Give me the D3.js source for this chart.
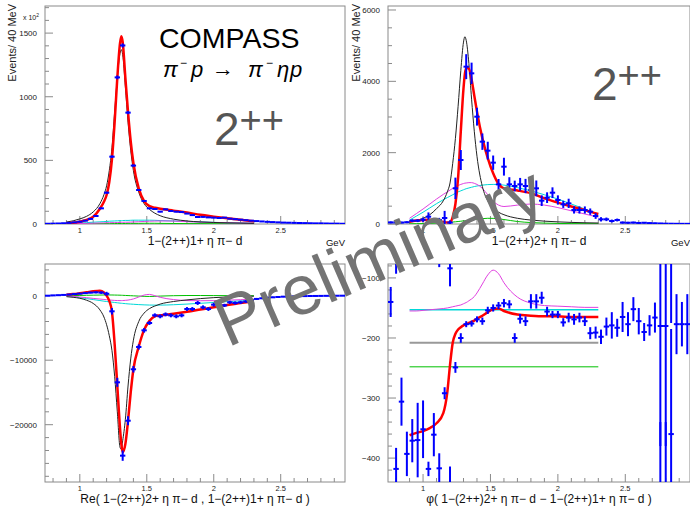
<!DOCTYPE html>
<html>
<head>
<meta charset="utf-8">
<script src="https://cdn.jsdelivr.net/npm/d3@7/dist/d3.min.js"></script>
<style>
body{margin:0;background:#fff;}
svg text{font-family:"Liberation Sans",Arial,sans-serif;}
</style>
</head>
<body>
<svg></svg>
<script>
// bin centres (GeV), 40 MeV bins
var massBins = [0.76,0.80,0.84,0.88,0.92,0.96,1.00,1.04,1.08,1.12,1.16,1.20,1.24,1.28,1.32,1.36,1.40,1.44,1.48,1.52,
  1.56,1.60,1.64,1.68,1.72,1.76,1.80,1.84,1.88,1.92,1.96,2.00,2.04,2.08,2.12,2.16,2.20,2.24,2.28,2.32,
  2.36,2.40,2.44,2.48,2.52,2.56,2.60,2.64,2.68,2.72,2.76,2.80,2.84,2.88,2.92,2.96];

// top left: intensity 2++ M=1 (x 10^2)
var tlCounts = [2,3,4,6,9,13,18,26,40,63,123,246,529,1152,1403,875,459,267,181,123,
  118,97,115,102,97,94,82,70,55,56,52,50,47,50,42,38,34,30,26,23,
  20,17,15,13,11,10,9,8,7,6,5,5,4,3,3,2];
var tlErr = [1,1,1,1,1,2,2,2,3,4,6,8,10,15,16,12,9,7,6,5,
  5,5,5,5,5,5,4,4,4,4,4,4,3,3,3,3,3,3,3,2,
  2,2,2,2,2,2,1,1,1,1,1,1,1,1,1,1];

// top right: intensity 2++ M=2
var trCounts = [45,45,40,50,93,93,120,205,112,112,168,40,1000,1794,4411,4224,3009,2308,2056,1720,
  1112,1607,1112,1065,1112,1065,953,1000,654,738,878,673,551,579,393,393,393,346,224,131,
  131,84,112,40,35,40,30,35,25,20,15,10,8,6,5,5];
var trErr = [25,25,25,25,40,40,60,120,60,60,200,60,300,280,350,300,250,230,250,200,
  150,250,200,150,180,200,200,220,150,150,150,130,100,130,100,100,100,90,80,60,
  50,40,40,30,25,25,20,20,20,15,15,10,10,10,10,10];

// bottom left: Re interference
var blRe = [0,50,80,120,180,250,320,400,480,520,480,300,-2420,-13430,-24800,-19380,-11410,-7950,-5370,-4230,
  -3040,-3200,-2900,-3050,-3200,-3050,-2060,-2060,-1130,-1800,-2060,-1390,-1500,-1500,-1030,-1130,-1030,-900,-700,-500,
  -400,-300,-250,-200,-150,-120,-100,-80,-60,-50,-40,-30,-20,-10,-5,0];
var blErr = [60,60,60,60,80,80,100,100,120,150,200,300,500,700,800,700,500,400,350,300,
  300,300,300,300,300,300,300,300,300,300,300,300,250,250,250,250,250,200,200,150,
  120,100,100,80,80,80,60,60,60,60,60,50,50,50,50,50];

// bottom right: relative phase (deg)
var brPhase = [-140,-418,-306,-393,-371,-370,-352,-418,-361,-417,-292,-84,-249,-200,-177,-176,-169,-172,-154,-150,
  -146,-142,-144,-200,-168,-172,-139,-139,-133,-156,-161,-161,-174,-166,-169,-166,-172,-192,-191,-198,
  -181,-179,-183,-165,-177,-152,-172,-190,-179,-166,-180,-180,-360,-177,-177,-177];
var brErr = [25,35,40,37,36,62,48,12,36,25,10,30,9,8,5,5,5,6,6,6,
  6,7,7,8,8,8,12,12,10,8,6,6,7,8,9,8,8,10,10,12,
  15,22,15,25,20,20,22,15,17,25,200,200,175,50,37,50];

// fit components, sampled on the fit range
var fitMass = [0.90,0.95,1.00,1.05,1.10,1.15,1.18,1.20,1.22,1.24,1.26,1.28,1.30,1.31,1.32,1.34,1.36,1.38,1.40,1.44,
  1.48,1.52,1.56,1.60,1.70,1.80,1.90,2.00,2.10,2.20,2.30];

var tlRed = [5,10,18,32,57,120,175,228,330,510,800,1150,1420,1475,1430,1150,880,650,480,280,
  180,140,128,120,105,90,72,58,45,33,22];
var tlBlack = [15,25,40,60,95,160,230,300,420,600,880,1150,1340,1370,1330,1080,800,580,420,250,
  160,115,85,65,38,24,16,12,9,7,5];
var tlCyan = [3,5,8,11,14,17,19,20,22,23,24,25,26,26,27,28,28,29,30,30,
  30,30,29,27,24,20,17,13,10,8,6];
var tlMagenta = [2,3,4,5,6,8,9,10,10,11,11,12,12,13,13,14,14,15,16,18,
  20,22,23,24,23,18,15,12,10,8,6];
var tlGreen = [1,1,1,2,2,3,3,3,3,3,4,4,4,4,4,4,5,5,5,5,
  6,6,6,5,4,3,3,2,2,1,1];

var trRed = [65,95,115,120,100,60,40,50,200,560,1300,2600,3800,4200,4380,4350,4050,3600,3150,2400,
  1850,1420,1120,1000,940,860,720,600,490,390,280];
var trBlack = [60,100,160,260,430,650,900,1150,1700,2400,3300,4300,5100,5250,5150,4500,3500,2600,1900,1050,
  650,450,330,260,160,110,80,60,45,35,28];
var trCyan = [110,220,330,450,570,680,740,780,820,860,900,930,960,975,990,1010,1030,1050,1065,1090,
  1105,1110,1105,1090,1020,930,820,700,560,420,280];
var trMagenta = [160,290,420,560,700,830,900,950,1000,1040,1080,1110,1135,1145,1150,1160,1160,1140,1110,1000,
  820,640,530,490,530,560,530,460,370,280,190];
var trGreen = [5,8,12,18,25,35,42,48,55,62,70,78,88,92,96,105,115,125,135,150,
  160,158,145,125,70,40,25,16,11,8,6];

var blRedFit = [150,250,380,520,680,760,500,0,-800,-2500,-7500,-14000,-20500,-23000,-24300,-23000,-19400,-15000,-11400,-7900,
  -5300,-3900,-3200,-3050,-2800,-2500,-2150,-1800,-1450,-1150,-850];
var blBlack = [-150,-250,-400,-700,-1200,-2200,-3300,-4500,-6200,-8500,-12500,-18000,-23500,-23800,-22500,-19200,-14000,-9800,-6900,-4000,
  -2700,-2000,-1600,-1300,-900,-650,-450,-300,-200,-120,-80];
var blCyan = [0,-150,-300,-450,-600,-750,-850,-900,-950,-1000,-1050,-1100,-1150,-1170,-1190,-1230,-1270,-1300,-1330,-1380,
  -1420,-1450,-1460,-1460,-1400,-1300,-1180,-1050,-920,-800,-700];
var blMagenta = [0,-100,-200,-300,-420,-520,-580,-620,-660,-700,-730,-750,-760,-760,-750,-720,-680,-600,-500,-200,
  100,200,0,-250,-600,-750,-780,-760,-700,-620,-550];
var blGreen = [0,20,40,60,80,100,110,110,110,110,100,90,80,70,60,40,20,0,-20,-60,
  -100,-120,-100,-60,0,30,30,20,10,5,0];

var brRedFit = [-362,-358,-355,-350,-342,-325,-290,-245,-208,-193,-186,-182,-179,-178,-177,-175,-173,-171,-168,-163,
  -157,-152,-151,-155,-161,-163,-164,-164,-165,-165,-165];
var brMagenta = [-155,-155,-154,-153,-152,-151,-150,-149,-148,-147,-146,-145,-143,-142,-141,-138,-135,-131,-125,-110,
  -95,-87,-93,-108,-132,-142,-146,-147,-148,-149,-149];
var brCyanLevel = -153, brBlackLevel = -208, brGreenLevel = -248;
var fitRange = [0.90, 2.30];

var xTicks = [1, 1.5, 2, 2.5];

var svg = d3.select("svg").attr("width", 690).attr("height", 506);
svg.append("rect").attr("width", 690).attr("height", 506).attr("fill", "#fff");

function panel(id, x0, x1, y0, y1, ydom, ymajor, yminor, xtitle, gev) {
  var x = d3.scaleLinear().domain([0.74, 2.98]).range([x0, x1]);
  var y = d3.scaleLinear().domain(ydom).range([y1, y0]);
  var g = svg.append("g");
  g.append("clipPath").attr("id", id).append("rect")
    .attr("x", x0).attr("y", y0).attr("width", x1 - x0).attr("height", y1 - y0);
  g.append("rect").attr("x", x0).attr("y", y0).attr("width", x1 - x0).attr("height", y1 - y0)
    .attr("fill", "none").attr("stroke", "#8a8a8a").attr("stroke-width", 1);
  // x ticks
  var xmin = d3.range(8, 30).map(function(d){ return d / 10; });
  g.selectAll(null).data(xmin).enter().append("line")
    .attr("x1", d => x(d)).attr("x2", d => x(d))
    .attr("y1", y1).attr("y2", d => y1 - (Math.abs(d * 2 - Math.round(d * 2)) < 1e-6 ? 8 : 4))
    .attr("stroke", "#8a8a8a");
  g.selectAll(null).data(xTicks).enter().append("text")
    .attr("x", d => x(d)).attr("y", y1 + 9).attr("text-anchor", "middle")
    .attr("font-size", 7.5).attr("fill", "#222").text(d => d);
  // y ticks
  var ymins = d3.range(Math.ceil(ydom[0] / yminor) * yminor, ydom[1], yminor);
  g.selectAll(null).data(ymins).enter().append("line")
    .attr("x1", x0).attr("x2", d => x0 + (Math.abs(d % ymajor) < 1e-6 ? 8 : 4))
    .attr("y1", d => y(d)).attr("y2", d => y(d)).attr("stroke", "#8a8a8a");
  var ymaj = ymins.filter(d => Math.abs(d % ymajor) < 1e-6);
  g.selectAll(null).data(ymaj).enter().append("text")
    .attr("x", x0 - 8).attr("y", d => y(d) + 3).attr("text-anchor", "end")
    .attr("font-size", 8).attr("fill", "#222")
    .text(d => d < 0 ? "\u2212" + (-d) : d);
  g.append("text").attr("x", (x0 + x1) / 2).attr("y", y1 + 21.4).attr("text-anchor", "middle")
    .attr("font-size", 12).attr("fill", "#111").text(xtitle);
  if (gev) g.append("text").attr("x", x1).attr("y", y1 + 22).attr("text-anchor", "end")
    .attr("font-size", 9.5).attr("fill", "#111").text("GeV");
  var plot = g.append("g").attr("clip-path", "url(#" + id + ")");
  return {x: x, y: y, g: plot};
}

function curve(p, vals, color, width) {
  var line = d3.line().x((d, i) => p.x(fitMass[i])).y(d => p.y(d)).curve(d3.curveMonotoneX);
  p.g.append("path").datum(vals).attr("d", line)
    .attr("fill", "none").attr("stroke", color).attr("stroke-width", width);
}
function level(p, v, color, width) {
  p.g.append("line").attr("x1", p.x(fitRange[0])).attr("x2", p.x(fitRange[1]))
    .attr("y1", p.y(v)).attr("y2", p.y(v)).attr("stroke", color).attr("stroke-width", width);
}
function points(p, vals, errs, shifts) {
  shifts = shifts || [0];
  shifts.forEach(function(s) {
    var pg = p.g.append("g").attr("stroke", "#0000ff").attr("stroke-width", 2);
    pg.selectAll(null).data(vals).enter().append("line")
      .attr("x1", (d, i) => p.x(massBins[i] - 0.02)).attr("x2", (d, i) => p.x(massBins[i] + 0.02))
      .attr("y1", d => p.y(d + s)).attr("y2", d => p.y(d + s));
    pg.selectAll(null).data(vals).enter().append("line")
      .attr("x1", (d, i) => p.x(massBins[i])).attr("x2", (d, i) => p.x(massBins[i]))
      .attr("y1", (d, i) => p.y(d + s - errs[i])).attr("y2", (d, i) => p.y(d + s + errs[i]));
  });
}

var tl = panel("cTL", 45, 345, 6, 224, [0, 1713], 500, 100, "1\u2212(2++)1+ \u03b7 \u03c0\u2212 d", true);
curve(tl, tlGreen, "#00c000", 1);
curve(tl, tlCyan, "#00d8d8", 1);
curve(tl, tlMagenta, "#e040e0", 1);
curve(tl, tlBlack, "#222", 1);
curve(tl, tlRed, "#ff0000", 2.5);
points(tl, tlCounts, tlErr);

var tr = panel("cTR", 388, 690, 6, 224, [0, 6112], 2000, 500, "1\u2212(2++)2+ \u03b7 \u03c0\u2212 d", true);
curve(tr, trGreen, "#00c000", 1);
curve(tr, trCyan, "#00d8d8", 1);
curve(tr, trMagenta, "#e040e0", 1);
curve(tr, trBlack, "#222", 1);
curve(tr, trRed, "#ff0000", 2.5);
points(tr, trCounts, trErr);

var bl = panel("cBL", 45, 345, 264, 482, [-28884, 4915], 10000, 2000,
  "Re( 1\u2212(2++)2+ \u03b7 \u03c0\u2212 d , 1\u2212(2++)1+ \u03b7 \u03c0\u2212 d )", false);
curve(bl, blGreen, "#00c000", 1);
curve(bl, blCyan, "#00d8d8", 1);
curve(bl, blMagenta, "#e040e0", 1);
curve(bl, blBlack, "#222", 1);
curve(bl, blRedFit, "#ff0000", 2.5);
points(bl, blRe, blErr);

var br = panel("cBR", 388, 690, 264, 482, [-439.8, -76.8], 100, 20,
  "\u03c6( 1\u2212(2++)2+ \u03b7 \u03c0\u2212 d \u2212 1\u2212(2++)1+ \u03b7 \u03c0\u2212 d )", false);
level(br, brGreenLevel, "#00c000", 1);
level(br, brBlackLevel, "#999", 2);
level(br, brCyanLevel, "#00d8d8", 1.5);
curve(br, brMagenta, "#e040e0", 1);
curve(br, brRedFit, "#ff0000", 2.5);
points(br, brPhase, brErr, [0, 360, -360]);

// y titles
[[12, "Events/ 40 MeV"], [356, "Events/ 40 MeV"]].forEach(function(t) {
  svg.append("text").attr("transform", "translate(" + t[0] + ",4) rotate(-90)")
    .attr("text-anchor", "end").attr("dy", "0.35em").attr("font-size", 11).attr("fill", "#222").text(t[1]);
});
var ex = svg.append("text").attr("x", 23).attr("y", 20).attr("font-size", 7).attr("fill", "#222");
ex.append("tspan").text("x 10");
ex.append("tspan").attr("dy", -3).attr("font-size", 5).text("2");

// labels
svg.append("text").attr("x", 159).attr("y", 48).attr("font-size", 28.5).attr("fill", "#000").text("COMPASS");
var serif = "'DejaVu Serif','Liberation Serif',serif";
var rx = svg.append("g").attr("font-family", serif).attr("fill", "#000");
[[163, 77, 22, "italic", "\u03c0"], [180, 67, 12, "normal", "\u2212"], [191, 77, 22, "italic", "p"],
 [212, 76, 22, "normal", "\u2192"], [248, 77, 22, "italic", "\u03c0"], [266, 67, 12, "normal", "\u2212"],
 [277, 77, 22, "italic", "\u03b7"], [290, 77, 22, "italic", "p"]].forEach(function(s) {
  rx.append("text").attr("x", s[0]).attr("y", s[1]).attr("font-size", s[2])
    .attr("font-style", s[3]).attr("font-family", serif).text(s[4]);
});

[[214, 145], [592, 100]].forEach(function(c) {
  var t = svg.append("text").attr("x", c[0]).attr("y", c[1]).attr("font-size", 46).attr("fill", "#555");
  t.append("tspan").text("2");
  t.append("tspan").attr("dy", -12).attr("font-size", 38).text("++");
});

// watermark
svg.append("text").attr("transform", "translate(388,278) rotate(-23.5)")
  .attr("text-anchor", "middle").attr("font-size", 70).attr("fill", "#747474").text("Preliminary");
</script>
</body>
</html>
